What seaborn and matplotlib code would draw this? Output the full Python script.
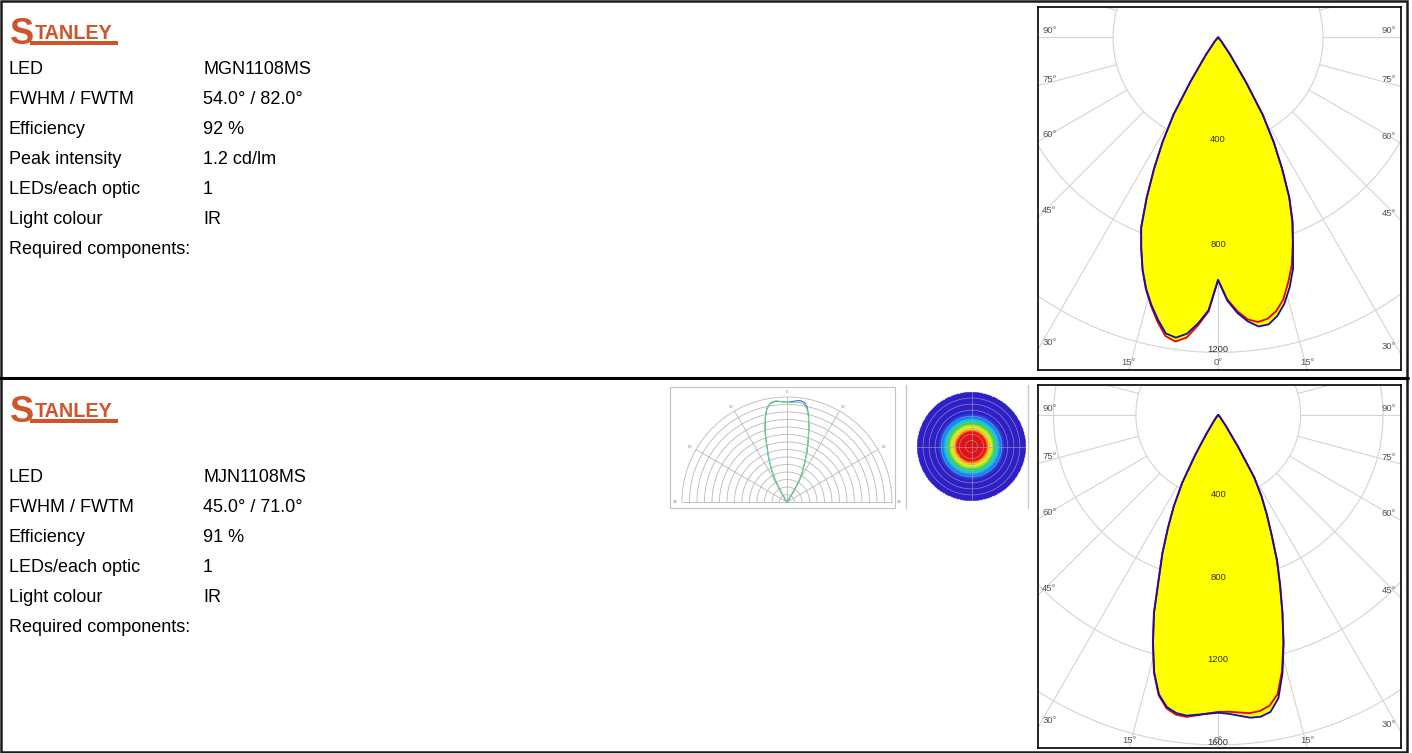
import numpy as np
import matplotlib
matplotlib.use('Agg')
import matplotlib.pyplot as plt
import matplotlib.patches as patches
from matplotlib.lines import Line2D
from matplotlib.colors import LinearSegmentedColormap
import seaborn as sns

sns.set_style('white')
plt.rcParams['font.family'] = ['Liberation Sans', 'DejaVu Sans']

W, H = 1412, 753

# Datasheet text
labels_top = ['LED', 'FWHM / FWTM', 'Efficiency', 'Peak intensity', 'LEDs/each optic',
              'Light colour', 'Required components:']
values_top = ['MGN1108MS', '54.0° / 82.0°', '92 %', '1.2 cd/lm', '1', 'IR', '']
labels_bot = ['LED', 'FWHM / FWTM', 'Efficiency', 'LEDs/each optic', 'Light colour',
              'Required components:']
values_bot = ['MJN1108MS', '45.0° / 71.0°', '91 %', '1', 'IR', '']

# Luminous intensity (cd/klm) vs angle from the optical axis
angles = [0, 2, 4, 6, 8, 10, 12, 14, 16, 18, 20, 22, 24, 26, 28, 30, 32, 35, 40, 50, 60, 90]
mgn_red_left = [924, 1045, 1100, 1150, 1170, 1155, 1108, 1055, 998, 932, 857, 784, 670, 558, 450, 340, 200, 80, 20, 3, 0, 0]
mgn_blue_left = [924, 1040, 1092, 1135, 1155, 1145, 1100, 1050, 995, 930, 855, 782, 668, 555, 448, 340, 200, 80, 20, 3, 0, 0]
mgn_red_right = [924, 998, 1045, 1080, 1095, 1088, 1066, 1028, 970, 910, 832, 755, 665, 555, 450, 340, 200, 80, 20, 3, 0, 0]
mgn_blue_right = [924, 1003, 1052, 1088, 1112, 1110, 1085, 1045, 990, 925, 835, 758, 668, 558, 452, 340, 200, 80, 20, 3, 0, 0]

mjn_red_left = [1440, 1448, 1460, 1472, 1468, 1445, 1390, 1290, 1152, 1012, 845, 725, 602, 492, 372, 222, 110, 40, 12, 2, 0, 0]
mjn_blue_left = [1444, 1450, 1457, 1466, 1460, 1438, 1385, 1285, 1148, 1008, 841, 722, 600, 490, 370, 220, 110, 40, 12, 2, 0, 0]
mjn_red_right = [1440, 1440, 1446, 1454, 1450, 1432, 1385, 1280, 1148, 1008, 875, 760, 636, 538, 448, 350, 180, 60, 15, 2, 0, 0]
mjn_blue_right = [1444, 1450, 1462, 1476, 1478, 1462, 1405, 1290, 1152, 1010, 880, 765, 640, 540, 450, 350, 180, 60, 15, 2, 0, 0]

rings = [400, 800, 1200, 1600, 2000, 2400]

LOGO = '#d0542a'
GRID = '#d4d4d4'
TXT = 13.0


def fx(x):
    return x / W


def fy(y):
    return 1 - y / H


def curve(left, right):
    a = np.array(angles, dtype=float)
    th = np.radians(np.concatenate([-a[::-1], a[1:]]))
    r = np.concatenate([np.array(left, float)[::-1], np.array(right, float)[1:]])
    return r * np.sin(th), -r * np.cos(th)


def polar_chart(rect, xlim, ylim, red_l, blue_l, red_r, blue_r):
    ax = fig.add_axes(rect)
    ax.set_xlim(*xlim)
    ax.set_ylim(*ylim)
    t = np.linspace(0, 2 * np.pi, 400)
    for r in rings:
        ax.plot(r * np.cos(t), r * np.sin(t), color=GRID, lw=0.8, zorder=1)
    for a in range(0, 360, 15):
        s, c = np.sin(np.radians(a)), np.cos(np.radians(a))
        ax.plot([400 * s, 4000 * s], [-400 * c, -4000 * c], color=GRID, lw=0.8, zorder=1)

    env_l = np.maximum(red_l, blue_l)
    env_r = np.maximum(red_r, blue_r)
    ex, ey = curve(env_l, env_r)
    ax.fill(ex, ey, color='#ffff00', zorder=2, lw=0)
    rx, ry = curve(red_l, red_r)
    bx, by = curve(blue_l, blue_r)
    sns.lineplot(x=rx, y=ry, sort=False, estimator=None, color='#e60000', lw=1.3, ax=ax, zorder=3)
    sns.lineplot(x=bx, y=by, sort=False, estimator=None, color='#1010b0', lw=1.3, ax=ax, zorder=4)

    for r in rings:
        if -r > ylim[0]:
            ax.annotate(str(r), (0, -r), xytext=(0, 2), textcoords='offset points',
                        ha='center', va='center', fontsize=6.8, color='#333333', zorder=5)

    # angle labels where the rays meet the frame
    for a in range(-90, 91, 15):
        dx, dy = np.sin(np.radians(a)), -np.cos(np.radians(a))
        ts = np.inf if abs(dx) < 1e-9 else (xlim[0] / dx if dx < 0 else xlim[1] / dx)
        tb = ylim[0] / dy if dy < -1e-9 else np.inf
        t_hit = min(ts, tb)
        px, py = t_hit * dx, t_hit * dy
        txt = f'{abs(a)}°'
        if ts <= tb:
            if dx < 0:
                ax.annotate(txt, (px, py), xytext=(3, 1.5), textcoords='offset points',
                            ha='left', va='bottom', fontsize=6.8, color='#555555', zorder=5)
            else:
                ax.annotate(txt, (px, py), xytext=(-3, 1.5), textcoords='offset points',
                            ha='right', va='bottom', fontsize=6.8, color='#555555', zorder=5)
        else:
            ax.annotate(txt, (px, py), xytext=(0, 2.5), textcoords='offset points',
                        ha='center', va='bottom', fontsize=6.8, color='#555555', zorder=5)

    ax.set_xticks([])
    ax.set_yticks([])
    ax.set_xlabel('')
    ax.set_ylabel('')
    for sp in ax.spines.values():
        sp.set_visible(True)
        sp.set_color('black')
        sp.set_linewidth(1.2)
    return ax


def logo(y0):
    fig.text(fx(10), fy(y0 + 34), 'S', fontsize=26, fontweight='bold', color=LOGO, va='baseline')
    fig.text(fx(35), fy(y0 + 29), 'TANLEY', fontsize=14.2, fontweight='bold', color=LOGO,
             va='baseline')
    fig.add_artist(patches.Rectangle((fx(30), fy(y0 + 35)), fx(118) - fx(30), fy(y0 + 31) - fy(y0 + 35),
                                     transform=fig.transFigure, color=LOGO, lw=0))


def text_block(labels, values, y_first):
    for i, (lab, val) in enumerate(zip(labels, values)):
        yb = y_first + 30 * i
        fig.text(fx(9), fy(yb), lab, fontsize=TXT, va='baseline', color='black')
        fig.text(fx(203), fy(yb), val, fontsize=TXT, va='baseline', color='black')


fig = plt.figure(figsize=(W / 100, H / 100), dpi=100, facecolor='white')

# frame and divider
fig.add_artist(patches.Rectangle((fx(1), fy(752)), fx(1407) - fx(1), fy(1) - fy(752),
                                 transform=fig.transFigure, fill=False, ec='#1a1a1a', lw=1.8))
fig.add_artist(Line2D([0, fx(1408)], [fy(377.5), fy(377.5)], transform=fig.transFigure,
                      color='black', lw=2.2))

# top panel
logo(10)
text_block(labels_top, values_top, 74)
polar_chart([fx(1038), fy(370), fx(1400.5) - fx(1038), fy(7) - fy(370)],
            (-686, 695), (-1267, 116),
            mgn_red_left, mgn_blue_left, mgn_red_right, mgn_blue_right)

# bottom panel
logo(388)
text_block(labels_bot, values_bot, 482)
polar_chart([fx(1038), fy(748), fx(1400.5) - fx(1038), fy(385) - fy(748)],
            (-875, 885), (-1615, 145),
            mjn_red_left, mjn_blue_left, mjn_red_right, mjn_blue_right)

# small half-polar preview of the MJN beam
axs = fig.add_axes([fx(670), fy(508), fx(895) - fx(670), fy(387) - fy(508)])
axs.set_xlim(-1.114, 1.029)
axs.set_ylim(-0.057, 1.095)
ts = np.linspace(0, np.pi, 200)
for k in range(1, 15):
    rr = k / 14
    axs.plot(rr * np.cos(ts), rr * np.sin(ts), color='#b8b8b8', lw=0.6)
for a in [-90, -60, -30, 0, 30, 60, 90]:
    s, c = np.sin(np.radians(a)), np.cos(np.radians(a))
    axs.plot([0, s], [0, c], color='#b8b8b8', lw=0.6)
    axs.text(1.07 * s, 1.05 * c, str(abs(a)), fontsize=3, color='#777777', ha='center', va='center')
a_arr = np.radians(np.concatenate([-np.array(angles, float)[::-1], np.array(angles, float)[1:]]))
r_b = np.concatenate([np.array(mjn_blue_left, float)[::-1], np.array(mjn_blue_right, float)[1:]]) / 1520
r_g = np.concatenate([np.array(mjn_red_left, float)[::-1], np.array(mjn_red_right, float)[1:]]) / 1520
sns.lineplot(x=r_b * np.sin(a_arr), y=r_b * np.cos(a_arr), sort=False, estimator=None,
             color='#4a5ee8', lw=0.8, ax=axs)
sns.lineplot(x=r_g * np.sin(a_arr), y=r_g * np.cos(a_arr), sort=False, estimator=None,
             color='#6ee06e', lw=0.8, ax=axs)
axs.set_xticks([])
axs.set_yticks([])
for sp in axs.spines.values():
    sp.set_visible(True)
    sp.set_color('#c4c4c4')
    sp.set_linewidth(0.8)

# spot map (illuminance on a plane) of the MJN beam
n = 241
u = (np.arange(n) - (n - 1) / 2) / ((n - 1) / 2)
uu, vv = np.meshgrid(u, u)
rho = np.sqrt(uu ** 2 + vv ** 2)
theta = np.degrees(np.arctan(rho * np.tan(np.radians(40))))
mean_i = (np.array(mjn_blue_left, float) + np.array(mjn_blue_right, float)) / 2
field = np.interp(theta, angles, mean_i) * np.cos(np.radians(theta)) ** 3 / mean_i.max()
mask = rho > 1
beam_cmap = LinearSegmentedColormap.from_list('beam', [
    (0, '#2e1fc6'), (0.2, '#2e1fc6'), (0.3, '#1a6cf0'), (0.4, '#16c8e8'), (0.5, '#2ed64a'),
    (0.62, '#c8ec1e'), (0.72, '#fff01a'), (0.8, '#ff8a0a'), (0.86, '#f01414'), (1, '#e01010')])
axh = fig.add_axes([fx(917), fy(501), fx(1026) - fx(917), fy(392) - fy(501)])
sns.heatmap(field, mask=mask, cmap=beam_cmap, vmin=0, vmax=1, cbar=False,
            xticklabels=False, yticklabels=False, ax=axh, rasterized=True)
cx = n / 2
for k in range(1, 10):
    axh.add_patch(patches.Circle((cx, cx), k * cx / 9, fill=False, ec='#a0a0c8', lw=0.5, alpha=0.8))
axh.plot([0, n], [cx, cx], color='#a0a0c8', lw=0.5, alpha=0.8)
axh.plot([cx, cx], [0, n], color='#a0a0c8', lw=0.5, alpha=0.8)
axh.set_axis_off()

for xv in [906, 1028]:
    fig.add_artist(Line2D([fx(xv), fx(xv)], [fy(508), fy(385)], transform=fig.transFigure,
                          color='#c8c8c8', lw=1))

fig.savefig('out.png', dpi=100, facecolor='white')
